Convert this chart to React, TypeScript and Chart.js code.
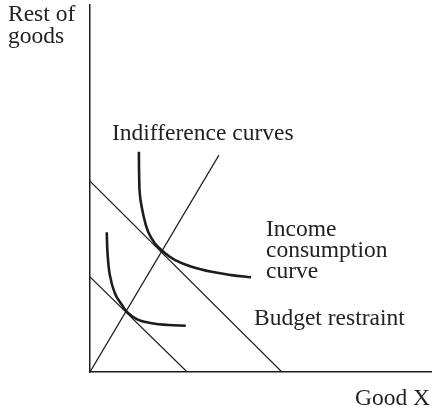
import React, { useEffect, useRef } from "react";
import { Chart, registerables } from "chart.js";

Chart.register(...registerables);

// Data coordinates: Good X on x axis (0..10), Rest of goods on y axis (0..10)
const budgetOuterX = [0, 5.61];
const budgetOuterY = [5.2, 0];
const budgetInnerX = [0, 2.84];
const budgetInnerY = [2.59, 0];
const iccX = [0, 3.77];
const iccY = [0, 5.91];
const icOuterX = [1.43, 1.435, 1.46, 1.56, 1.7, 1.9, 2.14, 2.49, 2.97, 3.56, 4.14, 4.71];
const icOuterY = [6.0, 5.46, 4.82, 4.28, 3.82, 3.5, 3.28, 3.05, 2.87, 2.73, 2.64, 2.58];
const icInnerX = [0.49, 0.51, 0.58, 0.73, 0.93, 1.12, 1.41, 1.8, 2.29, 2.8];
const icInnerY = [3.81, 3.28, 2.64, 2.14, 1.83, 1.6, 1.42, 1.33, 1.28, 1.26];

const labelYAxis = ["Rest of", "goods"];
const labelXAxis = "Good X";
const labelIC = "Indifference curves";
const labelICC = ["Income", "consumption", "curve"];
const labelBudget = "Budget restraint";

const zip = (xs: number[], ys: number[]) => xs.map((x, i) => ({ x, y: ys[i] }));

const INK = "#1c1c1c";
const FONT = "23.5px 'Liberation Serif', 'DejaVu Serif', serif";

const textPlugin = {
  id: "textLabels",
  afterDraw(chart: any) {
    const ctx = chart.ctx as CanvasRenderingContext2D;
    ctx.save();
    ctx.fillStyle = "#222";
    ctx.font = FONT;
    ctx.textAlign = "left";
    ctx.textBaseline = "alphabetic";
    ctx.fillText(labelYAxis[0], 8, 21);
    ctx.fillText(labelYAxis[1], 8, 43);
    ctx.fillText(labelIC, 112, 140);
    ctx.fillText(labelICC[0], 266, 236);
    ctx.fillText(labelICC[1], 266, 257);
    ctx.fillText(labelICC[2], 266, 278);
    ctx.fillText(labelBudget, 254, 325);
    ctx.fillText(labelXAxis, 355, 405);
    ctx.restore();
  },
};

export default function App() {
  const ref = useRef<HTMLCanvasElement | null>(null);
  useEffect(() => {
    document.body.style.margin = "0";
    const canvas = ref.current;
    if (!canvas) return;
    const thin = { borderColor: INK, borderWidth: 1.2, pointRadius: 0, fill: false, tension: 0 };
    const thick = {
      borderColor: INK,
      borderWidth: 2.6,
      pointRadius: 0,
      fill: false,
      tension: 0.4,
      borderCapStyle: "butt",
      borderJoinStyle: "round",
    };
    const chart = new Chart(canvas, {
      type: "line",
      data: {
        datasets: [
          { label: "Budget outer", data: zip(budgetOuterX, budgetOuterY), ...thin },
          { label: "Budget inner", data: zip(budgetInnerX, budgetInnerY), ...thin },
          { label: "ICC", data: zip(iccX, iccY), ...thin },
          { label: "IC outer", data: zip(icOuterX, icOuterY), ...thick },
          { label: "IC inner", data: zip(icInnerX, icInnerY), ...thick },
        ] as any,
      },
      options: {
        responsive: false,
        maintainAspectRatio: false,
        devicePixelRatio: 1,
        animation: false,
        layout: { padding: { left: 90, top: 5, right: 0, bottom: 43 } },
        plugins: { legend: { display: false }, tooltip: { enabled: false } },
        scales: {
          x: {
            type: "linear",
            min: 0,
            max: 10,
            grid: { display: false, drawTicks: false },
            ticks: { display: false },
            border: { display: true, color: INK, width: 1.5 },
          },
          y: {
            type: "linear",
            min: 0,
            max: 10,
            grid: { display: false, drawTicks: false },
            ticks: { display: false },
            border: { display: true, color: INK, width: 1.5 },
          },
        },
      },
      plugins: [textPlugin],
    });
    return () => chart.destroy();
  }, []);
  return <canvas ref={ref} width={432} height={415} style={{ display: "block" }} />;
}
